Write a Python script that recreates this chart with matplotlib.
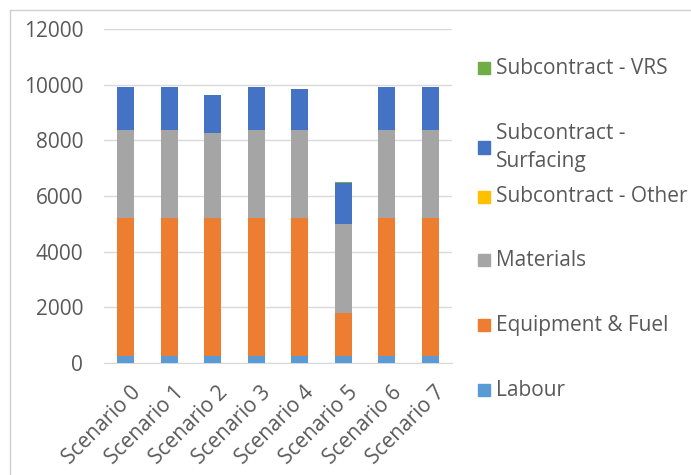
import matplotlib
matplotlib.use("Agg")
import matplotlib.pyplot as plt
from matplotlib.patches import Rectangle
from matplotlib.transforms import ScaledTranslation
import numpy as np

plt.rcParams['font.family'] = ['Open Sans', 'DejaVu Sans']

scenarios = ["Scenario 0", "Scenario 1", "Scenario 2", "Scenario 3",
             "Scenario 4", "Scenario 5", "Scenario 6", "Scenario 7"]
labour = [250, 250, 250, 250, 250, 250, 250, 250]
equipment = [4950, 4950, 4950, 4950, 4950, 1520, 4950, 4950]
materials = [3170, 3170, 3070, 3170, 3170, 3230, 3170, 3170]
sub_other = [0, 0, 0, 0, 10, 0, 0, 0]
sub_surfacing = [1530, 1530, 1350, 1530, 1460, 1470, 1530, 1530]
sub_vrs = [20, 20, 20, 20, 20, 20, 20, 20]

series_names = ["Labour", "Equipment & Fuel", "Materials", "Subcontract - Other",
                "Subcontract - Surfacing", "Subcontract - VRS"]
legend_labels = ["Labour", "Equipment & Fuel", "Materials", "Subcontract - Other",
                 "Subcontract -\nSurfacing", "Subcontract - VRS"]
series = [labour, equipment, materials, sub_other, sub_surfacing, sub_vrs]
colors = ["#5B9BD5", "#ED7D31", "#A5A5A5", "#FFC000", "#4472C4", "#70AD47"]
yticks = [0, 2000, 4000, 6000, 8000, 10000, 12000]

W, H = 691, 475
fig = plt.figure(figsize=(W / 100, H / 100), dpi=100)
ax = fig.add_axes([104 / W, 1 - 362.7 / H, 348 / W, (362.7 - 29.1) / H])

x = np.arange(len(scenarios))
bottom = np.zeros(len(scenarios))
for vals, c, name in zip(series, colors, series_names):
    ax.bar(x, vals, bottom=bottom, width=0.39, color=c, label=name, zorder=3)
    bottom += np.array(vals)

ax.set_xlim(-0.5, len(scenarios) - 0.5)
ax.set_ylim(0, 12000)
ax.set_yticks(yticks)
ax.set_yticklabels([str(v) for v in yticks])
ax.grid(axis='y', color='#D9D9D9', linewidth=1, zorder=0)
for s in ['top', 'right', 'left']:
    ax.spines[s].set_visible(False)
ax.spines['bottom'].set_color('#D9D9D9')
ax.tick_params(axis='both', length=0, labelsize=15, labelcolor='#595959')
ax.tick_params(axis='y', pad=15)
ax.set_xticks(x)
ax.set_xticklabels(scenarios, rotation=45, ha='right', va='top',
                   rotation_mode='anchor')
ax.tick_params(axis='x', pad=14)
off = ScaledTranslation(4 / 100, 0, fig.dpi_scale_trans)
for lbl in ax.get_xticklabels():
    lbl.set_transform(lbl.get_transform() + off)

# legend (reverse order, as in the original)
leg_y = [390, 325, 260, 197, 147.5, 68]
for lab, c, yy in zip(legend_labels, colors, leg_y):
    fig.patches.append(Rectangle((478 / W, 1 - (yy + 6) / H), 12 / W, 12 / H,
                                 transform=fig.transFigure, color=c))
    fig.text(496 / W, 1 - yy / H, lab, ha='left', va='center', fontsize=15,
             color='#595959', linespacing=1.45)

# faint chart frame
fig.add_artist(plt.Line2D([10 / W, 10 / W], [0, 1 - 10 / H], transform=fig.transFigure,
                          color='#D0D0D0', linewidth=1))
fig.add_artist(plt.Line2D([10 / W, 1], [1 - 10 / H, 1 - 10 / H], transform=fig.transFigure,
                          color='#D0D0D0', linewidth=1))

fig.savefig("out.png", dpi=100)
